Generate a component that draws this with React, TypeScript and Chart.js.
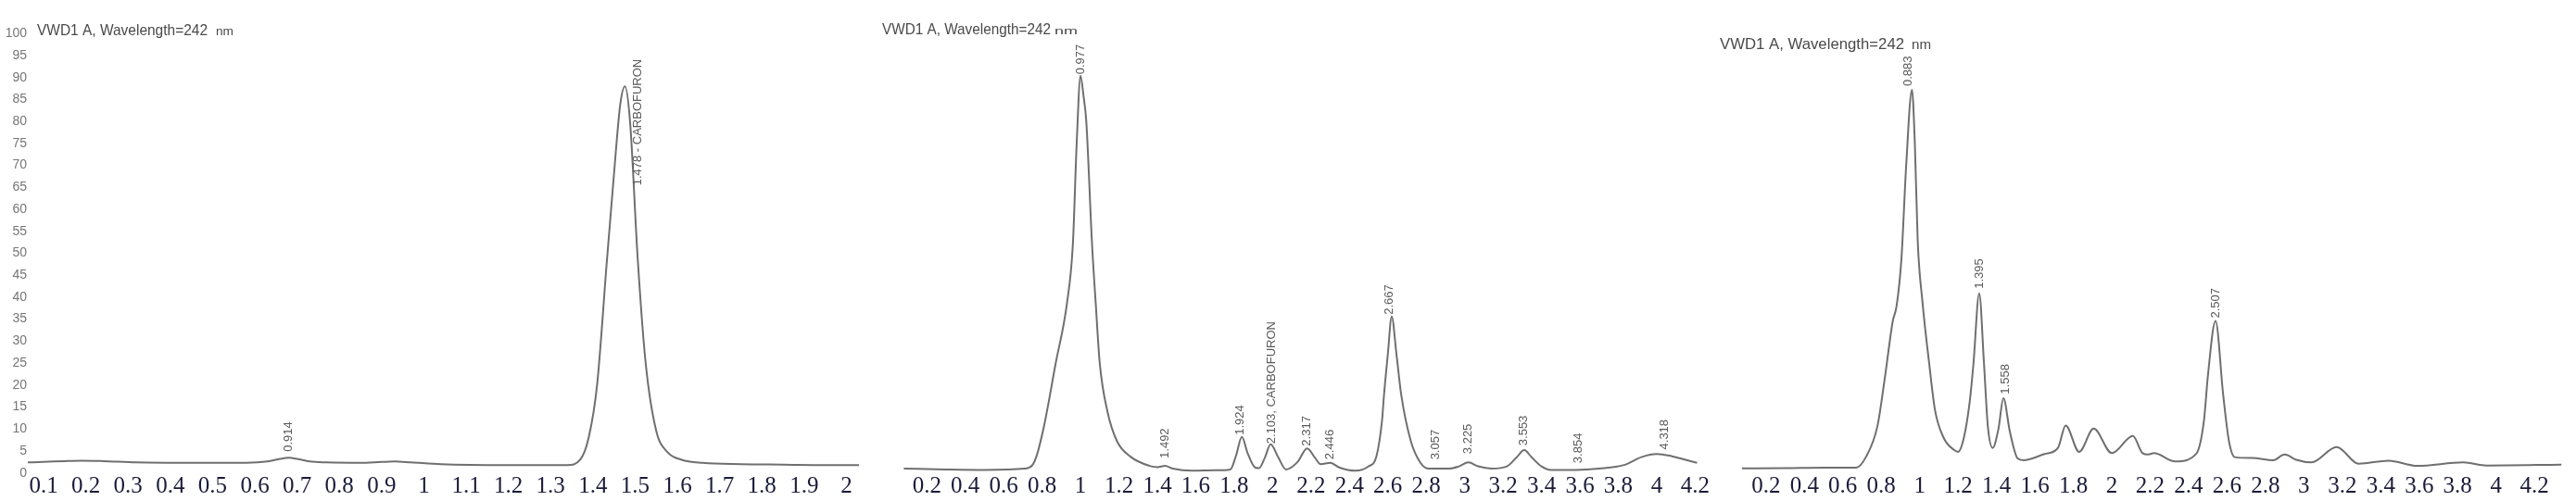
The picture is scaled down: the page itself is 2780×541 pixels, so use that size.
import React, { useEffect, useRef } from 'react';
import { Chart, registerables } from 'chart.js';
Chart.register(...registerables);

// ---------- shared ----------
const yTicks = [0, 5, 10, 15, 20, 25, 30, 35, 40, 45, 50, 55, 60, 65, 70, 75, 80, 85, 90, 95, 100];
const titleMain = 'VWD1 A, Wavelength=242';
const titleUnit = 'nm';

// ---------- panel 1 ----------
const p1Time = [0.062, 0.10, 0.15, 0.19, 0.24, 0.32, 0.45, 0.58, 0.63, 0.66, 0.68, 0.70, 0.73, 0.77, 0.85, 0.90, 0.93, 0.97, 1.04, 1.20, 1.34, 1.37, 1.39, 1.41, 1.433, 1.45, 1.465, 1.476, 1.488, 1.506, 1.525, 1.55, 1.577, 1.61, 1.66, 1.75, 1.85, 1.95, 2.03];
const p1Signal = [2.4, 2.5, 2.7, 2.8, 2.7, 2.4, 2.3, 2.3, 2.6, 3.2, 3.45, 3.2, 2.6, 2.4, 2.3, 2.5, 2.6, 2.4, 2.0, 1.8, 1.8, 3.0, 8, 20, 48, 68, 84, 88, 80, 49, 25, 9.6, 4.7, 3.0, 2.3, 2.0, 1.9, 1.8, 1.8];
const p1Ticks = [0.1, 0.2, 0.3, 0.4, 0.5, 0.6, 0.7, 0.8, 0.9, 1, 1.1, 1.2, 1.3, 1.4, 1.5, 1.6, 1.7, 1.8, 1.9, 2];
const p1LabelX = [0.68, 1.506];
const p1LabelY = [4.4, 65];
const p1LabelText = ['0.914', '1.478 - CARBOFURON'];

// ---------- panel 2 ----------
const p2Time = [0.08, 0.3, 0.5, 0.71, 0.75, 0.77, 0.81, 0.87, 0.93, 0.96, 0.98, 1.0, 1.015, 1.03, 1.06, 1.08, 1.10, 1.14, 1.19, 1.26, 1.36, 1.40, 1.44, 1.48, 1.58, 1.70, 1.78, 1.81, 1.84, 1.87, 1.91, 1.93, 1.96, 1.99, 2.03, 2.07, 2.13, 2.18, 2.22, 2.25, 2.30, 2.35, 2.43, 2.50, 2.54, 2.57, 2.58, 2.60, 2.62, 2.645, 2.67, 2.72, 2.77, 2.81, 2.85, 2.92, 2.97, 3.02, 3.07, 3.14, 3.22, 3.27, 3.31, 3.35, 3.40, 3.45, 3.58, 3.70, 3.83, 3.92, 4.0, 4.08, 4.15, 4.21];
const p2Signal = [1.0, 0.8, 0.7, 1.0, 1.8, 3.7, 10.7, 24.8, 38.8, 52, 75, 90.4, 86, 80, 52, 38, 25, 14, 7.2, 3.7, 1.6, 1.3, 1.6, 1.0, 0.5, 0.6, 0.8, 4, 8.2, 4.5, 1.2, 1.1, 3.5, 6.5, 3.5, 0.8, 2.5, 5.6, 3.5, 2.0, 2.3, 1.2, 0.5, 1.5, 3.7, 12, 17.7, 27, 35.6, 27, 17.7, 7.2, 2.3, 1.0, 1.0, 1.0, 1.5, 2.4, 1.5, 1.0, 1.5, 3.5, 5.2, 3.5, 1.5, 0.7, 0.7, 1.0, 1.8, 3.6, 4.3, 3.8, 3.0, 2.3];
const p2Ticks = [0.2, 0.4, 0.6, 0.8, 1, 1.2, 1.4, 1.6, 1.8, 2, 2.2, 2.4, 2.6, 2.8, 3, 3.2, 3.4, 3.6, 3.8, 4, 4.2];
const p2LabelX = [1.0, 1.44, 1.83, 1.995, 2.18, 2.30, 2.61, 2.85, 3.02, 3.31, 3.59, 4.04];
const p2LabelY = [90.3, 2.9, 8.2, 6.2, 5.7, 2.6, 35.6, 2.6, 3.9, 5.8, 1.8, 4.9];
const p2LabelText = ['0.977', '1.492', '1.924', '2.103, CARBOFURON', '2.317', '2.446', '2.667', '3.057', '3.225', '3.553', '3.854', '4.318'];

// ---------- panel 3 ----------
const p3Time = [0.075, 0.3, 0.5, 0.67, 0.72, 0.78, 0.82, 0.86, 0.88, 0.905, 0.93, 0.96, 0.975, 0.99, 1.015, 1.05, 1.08, 1.125, 1.18, 1.2, 1.23, 1.26, 1.28, 1.31, 1.335, 1.355, 1.38, 1.41, 1.436, 1.47, 1.51, 1.54, 1.65, 1.72, 1.76, 1.83, 1.906, 2.0, 2.11, 2.16, 2.19, 2.22, 2.33, 2.44, 2.48, 2.50, 2.54, 2.58, 2.61, 2.64, 2.73, 2.84, 2.90, 2.96, 3.04, 3.17, 3.285, 3.44, 3.59, 3.83, 3.95, 4.34];
const p3Signal = [1.05, 1.1, 1.2, 1.2, 3.6, 10.6, 22, 34.5, 38, 48.6, 70, 87.2, 75, 52.8, 38.8, 24.8, 14.3, 8, 5.2, 4.8, 8, 16, 24.8, 40.9, 24.8, 10.6, 5.7, 10, 17.0, 9.3, 3.3, 2.9, 4.3, 5.7, 10.8, 4.8, 10.1, 4.5, 8.4, 4.5, 4.2, 4.5, 2.6, 4.4, 12, 22, 34.6, 17.7, 7.2, 3.6, 3.4, 2.9, 4.2, 3.0, 2.4, 5.9, 2.1, 2.8, 1.6, 2.4, 1.7, 1.9];
const p3Ticks = [0.2, 0.4, 0.6, 0.8, 1, 1.2, 1.4, 1.6, 1.8, 2, 2.2, 2.4, 2.6, 2.8, 3, 3.2, 3.4, 3.6, 3.8, 4, 4.2];
const p3LabelX = [0.94, 1.31, 1.445, 2.54];
const p3LabelY = [87.6, 41.5, 17.5, 34.8];
const p3LabelText = ['0.883', '1.395', '1.558', '2.507'];

const fmt = (v: number) => String(Math.round(v * 10) / 10);

const annotPlugin = {
  id: 'annot',
  afterDatasetsDraw(chart: any, _args: any, opts: any) {
    const { ctx } = chart;
    const x = chart.scales.x;
    const y = chart.scales.y;
    ctx.save();
    // peak labels
    ctx.font = '13px "Liberation Sans", Arial, sans-serif';
    ctx.fillStyle = '#5a5a5a';
    ctx.textAlign = 'left';
    ctx.textBaseline = 'middle';
    (opts.labelX || []).forEach((lx: number, i: number) => {
      const px = x.getPixelForValue(lx);
      const py = y.getPixelForValue(opts.labelY[i]);
      ctx.save();
      ctx.translate(px, py - 2);
      ctx.rotate(-Math.PI / 2);
      ctx.fillText(opts.labelText[i], 0, 0);
      ctx.restore();
    });
    // title
    const t = opts.title;
    if (t) {
      ctx.fillStyle = '#4a4a4a';
      ctx.textBaseline = 'middle';
      ctx.font = `${t.size}px "Liberation Sans", Arial, sans-serif`;
      const w = ctx.measureText(titleMain).width;
      ctx.save();
      ctx.translate(t.x, t.y);
      ctx.scale(t.width / w, 1);
      ctx.fillText(titleMain, 0, 0);
      ctx.restore();
      ctx.font = `${t.unitSize}px "Liberation Sans", Arial, sans-serif`;
      const w2 = ctx.measureText(titleUnit).width;
      ctx.save();
      ctx.translate(t.unitX, t.y + t.unitDy);
      ctx.scale(t.unitWidth / w2, 1);
      ctx.fillText(titleUnit, 0, 0);
      ctx.restore();
    }
    ctx.restore();
  },
};

type Panel = {
  left: number;
  width: number;
  time: number[];
  signal: number[];
  ticks: number[];
  xmin: number;
  xmax: number;
  showY: boolean;
  padLeft: number;
  padRight: number;
  labelX: number[];
  labelY: number[];
  labelText: string[];
  title: any;
};

const panels: Panel[] = [
  {
    left: 0, width: 930, time: p1Time, signal: p1Signal, ticks: p1Ticks,
    xmin: 0.0627, xmax: 2.0364, showY: true, padLeft: 0, padRight: 0,
    labelX: p1LabelX, labelY: p1LabelY, labelText: p1LabelText,
    title: { x: 40, y: 33, width: 184, size: 17, unitX: 233, unitWidth: 19, unitSize: 12, unitDy: 2 },
  },
  {
    left: 935, width: 910, time: p2Time, signal: p2Signal, ticks: p2Ticks,
    xmin: 0.0539, xmax: 4.2553, showY: false, padLeft: 5, padRight: 0,
    labelX: p2LabelX, labelY: p2LabelY, labelText: p2LabelText,
    title: { x: 17, y: 32, width: 182, size: 17, unitX: 203, unitWidth: 25, unitSize: 11, unitDy: 2 },
  },
  {
    left: 1845, width: 935, time: p3Time, signal: p3Signal, ticks: p3Ticks,
    xmin: 0.066, xmax: 4.392, showY: false, padLeft: 3, padRight: 5,
    labelX: p3LabelX, labelY: p3LabelY, labelText: p3LabelText,
    title: { x: 11, y: 48, width: 199, size: 17, unitX: 218, unitWidth: 21, unitSize: 15, unitDy: 1 },
  },
];

function PanelChart({ panel }: { panel: Panel }) {
  const ref = useRef<HTMLCanvasElement | null>(null);
  useEffect(() => {
    if (!ref.current) return;
    const data = panel.time.map((t, i) => ({ x: t, y: panel.signal[i] }));
    const chart = new Chart(ref.current, {
      type: 'line',
      data: {
        datasets: [
          {
            data,
            borderColor: '#6f6f6f',
            borderWidth: 2,
            pointRadius: 0,
            cubicInterpolationMode: 'monotone',
            fill: false,
          },
        ],
      },
      plugins: [annotPlugin],
      options: {
        animation: false,
        responsive: false,
        devicePixelRatio: 1,
        events: [],
        layout: { padding: { top: 36.2, left: panel.padLeft, right: panel.padRight, bottom: 0 } },
        plugins: {
          legend: { display: false },
          tooltip: { enabled: false },
          annot: {
            labelX: panel.labelX,
            labelY: panel.labelY,
            labelText: panel.labelText,
            title: panel.title,
          },
        } as any,
        scales: {
          x: {
            type: 'linear',
            min: panel.xmin,
            max: panel.xmax,
            grid: { display: false, drawTicks: false },
            border: { display: false },
            afterBuildTicks: (s: any) => {
              s.ticks = panel.ticks.map((v) => ({ value: v }));
            },
            afterFit: (s: any) => {
              s.height = 30.3;
            },
            ticks: {
              autoSkip: false,
              maxRotation: 0,
              padding: 0,
              color: '#1b1b3a',
              font: { family: '"Liberation Serif", "Times New Roman", serif', size: 25 },
              callback: (v: any) => fmt(Number(v)),
            },
          },
          y: {
            type: 'linear',
            min: 0,
            max: 100,
            display: panel.showY,
            grid: { display: false, drawTicks: false },
            border: { display: false },
            afterBuildTicks: (s: any) => {
              s.ticks = yTicks.map((v) => ({ value: v }));
            },
            afterFit: (s: any) => {
              s.width = 30;
            },
            ticks: {
              padding: 1,
              color: '#767676',
              font: { family: '"Liberation Sans", Arial, sans-serif', size: 14 },
            },
          },
        },
      } as any,
    });
    return () => chart.destroy();
  }, [panel]);
  return (
    <div style={{ position: 'absolute', left: panel.left, top: 0, width: panel.width, height: 541 }}>
      <canvas ref={ref} width={panel.width} height={541} style={{ display: 'block' }} />
    </div>
  );
}

export default function App() {
  return (
    <div style={{ position: 'fixed', left: 0, top: 0, width: 2780, height: 541, background: '#fff', overflow: 'hidden' }}>
      {panels.map((p, i) => (
        <PanelChart key={i} panel={p} />
      ))}
    </div>
  );
}
